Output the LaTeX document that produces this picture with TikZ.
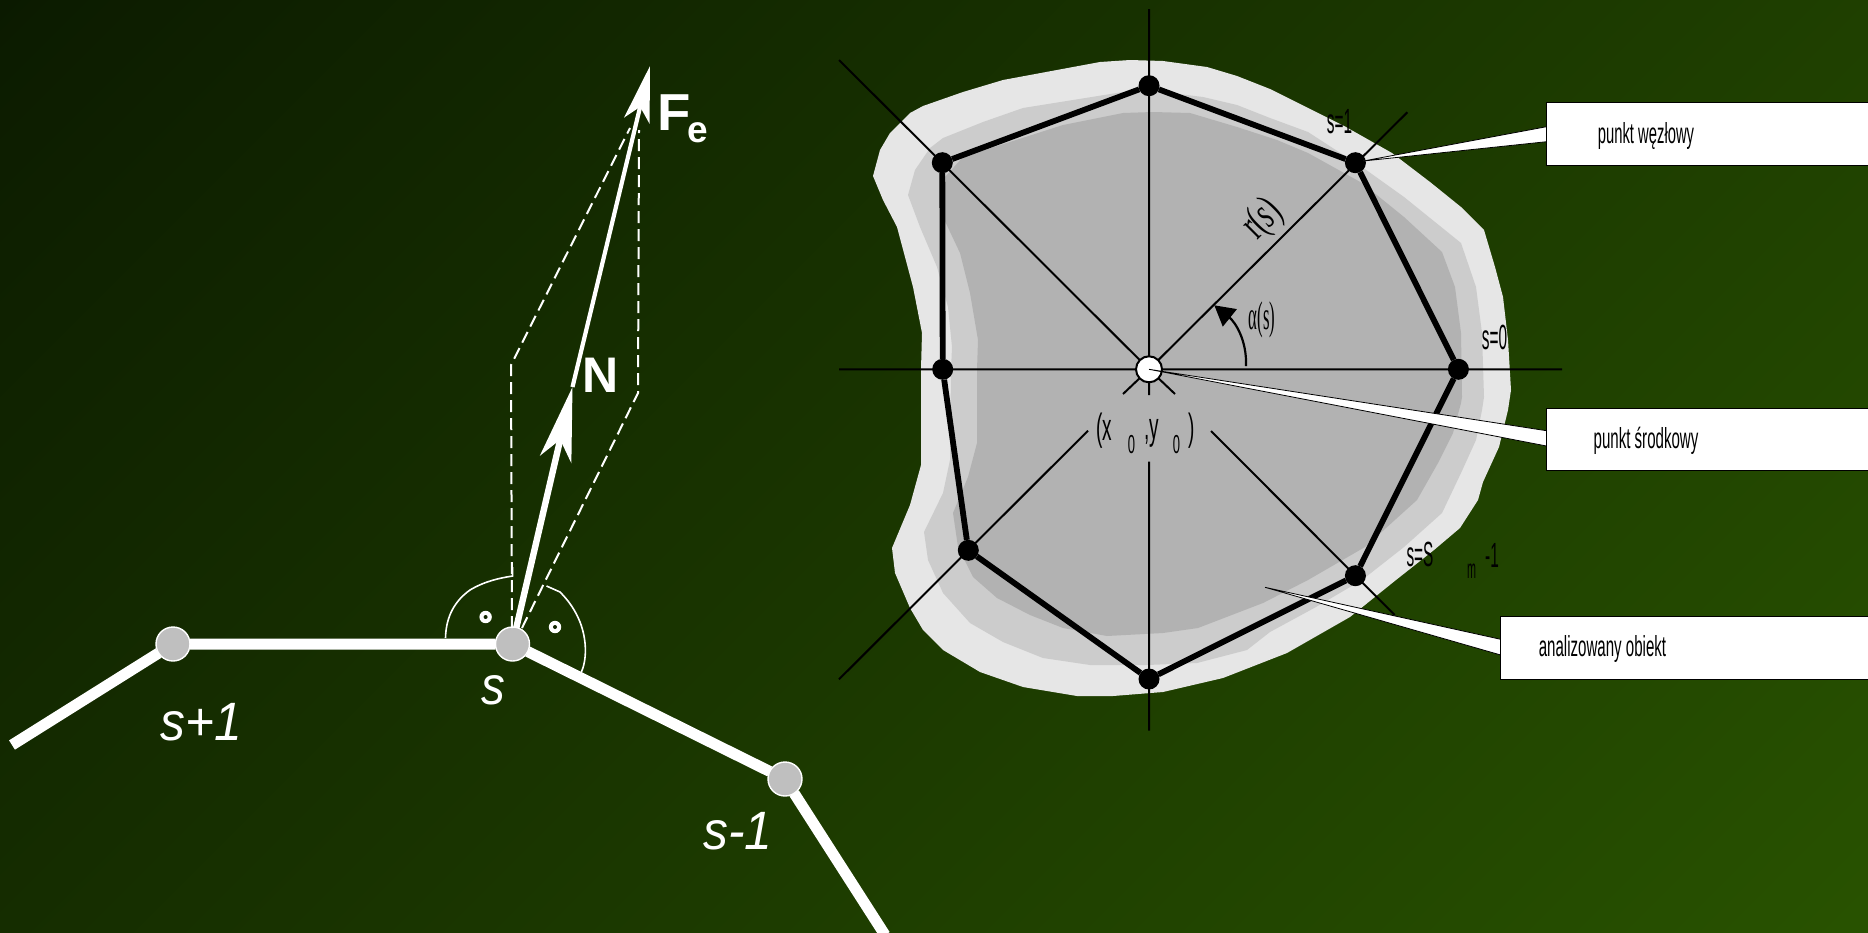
\documentclass[tikz,border=0pt]{standalone}
\usepackage{fontspec}
\setmainfont{Liberation Sans}
\newfontfamily\serf{Liberation Serif}
\usetikzlibrary{arrows.meta}
\definecolor{blobA}{HTML}{E6E6E6}
\definecolor{blobB}{HTML}{CCCCCC}
\definecolor{blobC}{HTML}{B2B2B2}
\definecolor{nodeg}{HTML}{BFBFBF}
\definecolor{bgA}{HTML}{020500}
\definecolor{bgB}{HTML}{0C1C00}
\definecolor{bgC}{HTML}{1A3600}
\definecolor{bgD}{HTML}{2E5E00}
\pgfdeclareverticalshading{bgsh}{100bp}{color(0bp)=(bgA);color(16bp)=(bgB);color(50bp)=(bgC);color(100bp)=(bgD)}
\newcommand\fsz[1]{\fontsize{#1}{#1}\selectfont}
\newcommand\cond[2]{\scalebox{#1}[1]{#2}}
\tikzset{
  px/.style={inner sep=0pt,outer sep=0pt},
  chainln/.style={draw=white,line width=5.5pt},
  gnode/.style={circle,fill=nodeg,draw=white,line width=0.7pt,minimum size=17pt,inner sep=0pt,outer sep=0pt},
  knode/.style={circle,fill=black,minimum size=10.5pt,inner sep=0pt,outer sep=0pt},
  poly/.style={draw=black,line width=2.9pt},
  axisl/.style={draw=black,line width=1pt},
  dashln/.style={draw=white,line width=1pt,dash pattern=on 6pt off 3pt},
  arcw/.style={draw=white,line width=0.8pt},
  callout/.style={fill=white,draw=black,line width=0.4pt,line join=miter},
  ringd/.style={circle,fill=white,minimum size=6.2pt,inner sep=0pt},
  blk/.style={px,text=black},
  wht/.style={px,text=white},
}
\begin{document}
\begin{tikzpicture}[x=0.5pt,y=-0.5pt]
\path[use as bounding box] (0,0) rectangle (1868,932);
\clip (0,0) rectangle (1868,932);
\shade[shading=bgsh,shading angle=-135] (0,0) rectangle (1868,932);

% blobs
\fill[blobA] plot coordinates {(873,176)(880,150)(890,133)(910,113)(923,106)(963,92)(1003,80)(1100,62)(1130,60)(1163,61)(1207,67)(1237,76)(1270,89)(1308,108)(1346,127)(1392,153)(1430,182)(1461,207)(1484,230)(1495,267)(1503,297)(1508,340)(1511,390)(1508,410)(1499,447)(1483,482)(1478,500)(1460,528)(1434,550)(1396,580)(1350,617)(1287,653)(1223,678)(1163,692)(1113,696)(1077,696)(1023,687)(980,672)(943,650)(923,630)(910,608)(895,573)(892,548)(910,505)(921,465)(921,369)(922,333)(913,287)(897,227)(883,200)} -- cycle;
\fill[blobB] plot coordinates {(908,195)(915,170)(930,148)(943,138)(983,122)(1023,108)(1123,92)(1163,92)(1203,97)(1237,105)(1270,118)(1308,132)(1362,167)(1404,197)(1461,243)(1476,287)(1482,333)(1484,397)(1482,410)(1476,440)(1461,473)(1442,513)(1404,547)(1362,580)(1316,607)(1270,632)(1247,650)(1197,663)(1147,665)(1090,665)(1043,658)(1003,642)(970,623)(943,593)(928,560)(924,532)(943,493)(950,460)(951,370)(952,347)(948,307)(937,267)(920,227)} -- cycle;
\fill[blobC] plot coordinates {(945,177)(963,157)(1063,125)(1123,113)(1153,112)(1190,113)(1237,127)(1277,140)(1308,153)(1362,183)(1404,217)(1442,252)(1455,287)(1461,333)(1462,397)(1461,403)(1453,433)(1438,463)(1417,500)(1365,547)(1308,580)(1263,603)(1198,628)(1163,633)(1107,636)(1063,628)(1030,615)(997,598)(973,577)(958,547)(953,513)(968,477)(977,443)(977,370)(978,340)(970,293)(960,253)(943,217)} -- cycle;

% centre and axis ends
\coordinate (c) at (1149,369.3);
\coordinate (axL) at (839,369.3);
\coordinate (axR) at (1562,369.3);
\coordinate (axT) at (1149,9);
\coordinate (axBa) at (1149,395);
\coordinate (axBb) at (1149,461.7);
\coordinate (axBc) at (1149,730.7);
\coordinate (axNW) at (839,60);
\coordinate (axNE) at (1407.3,112.3);
\coordinate (axSWa) at (1123,394);
\coordinate (axSWb) at (1088,430.7);
\coordinate (axSWc) at (839,679.3);
\coordinate (axSEa) at (1175,394);
\coordinate (axSEb) at (1211,431);
\coordinate (axSEc) at (1394.7,615);
\draw[axisl] (axL)--(axR) (axT)--(axBa) (axBb)--(axBc) (axNW)--(c) (c)--(axNE)
  (c)--(axSWa) (axSWb)--(axSWc) (c)--(axSEa) (axSEb)--(axSEc);

% polygon
\node[knode] (n0) at (1458.4,369.3) {};
\node[knode] (n1) at (1355.4,162.7) {};
\node[knode] (n2) at (1149,85.7) {};
\node[knode] (n3) at (942.3,162.7) {};
\node[knode] (n4) at (942.7,369.3) {};
\node[knode] (n5) at (968.3,550.3) {};
\node[knode] (n6) at (1149,679) {};
\node[knode] (n7) at (1355.4,575.7) {};
\draw[poly] (n0)--(n1) (n1)--(n2) (n2)--(n3) (n3)--(n4) (n4)--(n5) (n5)--(n6) (n6)--(n7) (n7)--(n0);
\node[circle,fill=white,draw=black,line width=1pt,minimum size=13pt,inner sep=0pt] (cc) at (c) {};

% angle arrow
\coordinate (angA) at (1246,366);
\coordinate (angB) at (1214.3,305.3);
\draw[line width=1.1pt,-{Triangle[length=10pt,width=11pt]}] (angA) .. controls (1247,340) and (1235,322) .. (angB);

% callouts
\coordinate (t1) at (1363.4,161);
\coordinate (t3) at (1265,587.3);
\draw[callout] (1546.5,126.7)--(t1)--(1546.5,141.7)--cycle;
\draw[callout] (1546.5,430.7)--(c)--(1546.5,446)--cycle;
\draw[callout] (1500.7,639.3)--(t3)--(1500.7,655)--cycle;
\node[callout,px,minimum width=163pt,minimum height=31.2pt,anchor=north west,line width=0.5pt] (b1) at (1546.5,102.7) {};
\node[callout,px,minimum width=163pt,minimum height=31.2pt,anchor=north west,line width=0.5pt] (b2) at (1546.5,408) {};
\node[callout,px,minimum width=190pt,minimum height=31.2pt,anchor=north west,line width=0.5pt] (b3) at (1500.7,616.7) {};
\node[blk] (l1) at (1646,136) {\fsz{14.5}\cond{0.51}{punkt węzłowy}};
\node[blk] (l2) at (1646,441) {\fsz{14.5}\cond{0.52}{punkt środkowy}};
\node[blk] (l3) at (1602.5,649) {\fsz{14.5}\cond{0.52}{analizowany obiekt}};

% black labels
\node[blk] (s1) at (1339.5,122) {\fsz{17.5}\cond{0.44}{s=1}};
\node[blk] (s0) at (1494.5,337) {\fsz{17.5}\cond{0.44}{s=0}};
\node[blk] (sm1) at (1420,554) {\fsz{17.5}\cond{0.44}{s=S}};
\node[blk] (sm2) at (1471.5,571) {\fsz{13.5}\cond{0.4}{m}};
\node[blk] (sm3) at (1492,555) {\fsz{17.5}\cond{0.44}{-1}};
\node[blk,rotate=45] (rs) at (1263,220) {\fsz{22}\serf\cond{0.62}{r(\textit{s})}};
\node[blk] (as) at (1262,320) {\fsz{20}\serf\cond{0.42}{α(s)}};
\node[blk] (x0a) at (1104.5,431) {\fsz{19}\cond{0.5}{(x}};
\node[blk] (x0b) at (1131.5,445) {\fsz{13}\cond{0.5}{0}};
\node[blk] (x0c) at (1151.5,433) {\fsz{19}\cond{0.5}{,y}};
\node[blk] (x0d) at (1176.5,445) {\fsz{13}\cond{0.5}{0}};
\node[blk] (x0e) at (1191.5,431) {\fsz{19}\cond{0.5}{)}};

% left chain
\node[gnode] (sp) at (173,644) {};
\node[gnode] (ss) at (512.5,644) {};
\node[gnode] (sm) at (785,779) {};
\coordinate (eL) at (12,745);
\coordinate (eR) at (885,935);
\draw[chainln] (eL)--(sp) (sp)--(ss) (ss)--(sm) (sm)--(eR);

% parallelogram
\coordinate (da) at (512,628);
\coordinate (db) at (511,365);
\coordinate (dc) at (630,128);
\coordinate (dd) at (522,628);
\coordinate (de) at (638,393);
\coordinate (df) at (639,130);
\draw[dashln] (da)--(db)--(dc);
\draw[dashln] (dd)--(de)--(df);

% vectors
\coordinate (Ntip) at (572.5,387);
\coordinate (Ftip) at (650,66);
\draw[white,line width=3.2pt,-{Stealth[length=37pt,width=16pt,inset=10pt]}] (ss)--(Ntip);
\draw[white,line width=2.1pt,-{Stealth[length=28pt,width=13pt,inset=7pt]}] (Ntip)--(Ftip);

% right-angle arcs
\draw[arcw] (445.5,638) .. controls (446,615) and (456,600) .. (470,590) .. controls (485,581) and (500,578) .. (512.6,576) -- (512.6,567);
\draw[arcw] (546.5,586) -- (560,592) .. controls (570,602) and (576,612) .. (580,622) .. controls (587,640) and (587,660) .. (581,673);
\node[ringd] (r1) at (485.6,617) {};
\node[ringd] (r2) at (555,627) {};
\fill[bgC!70!black] (r1) circle (1pt) (r2) circle (1pt);

% white labels
\node[wht] (lF) at (674,113) {\fsz{26}\bfseries\cond{1.05}{F}};
\node[wht] (le) at (698,133) {\fsz{18.5}\bfseries e};
\node[wht] (lN) at (601,375.5) {\fsz{25}\bfseries N};
\node[wht] (ls) at (493,690) {\fsz{27}\itshape\cond{0.88}{s}};
\node[wht] (lsp) at (201,722) {\fsz{27}\itshape\cond{0.92}{s+1}};
\node[wht] (lsm) at (738,831) {\fsz{27}\itshape\cond{0.92}{s-1}};
\end{tikzpicture}
\end{document}
